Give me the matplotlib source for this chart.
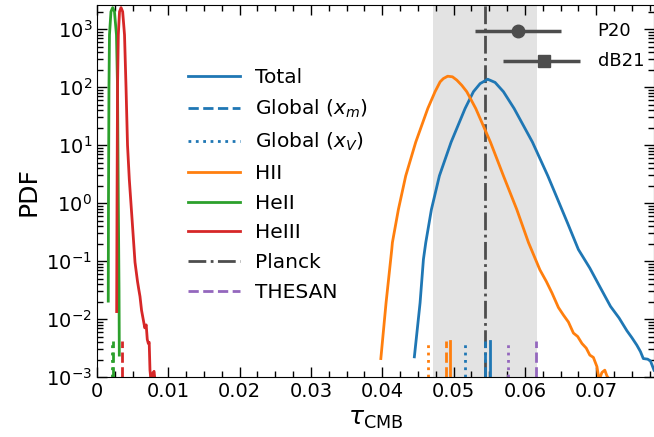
import matplotlib
matplotlib.use("Agg")
import matplotlib.pyplot as plt
from matplotlib.ticker import AutoMinorLocator, LogLocator, NullFormatter
import numpy as np

# Output
output_file_name = "out.png"

# PDF curves (tau, log10 PDF)
total_tau = [0.0445, 0.0453, 0.04577, 0.04610, 0.04689, 0.04801, 0.04965, 0.05161,
             0.05278, 0.05372, 0.05479, 0.05582, 0.05699, 0.05849, 0.06106, 0.06321,
             0.0642, 0.0660, 0.0675, 0.0691, 0.0705, 0.0720, 0.0732, 0.0743, 0.0750,
             0.0757, 0.0762, 0.0766, 0.0772, 0.0776, 0.0781]
total_logpdf = [-2.65, -1.72, -0.97, -0.68, -0.11, 0.47, 1.05, 1.63,
                1.92, 2.06, 2.135, 2.08, 1.92, 1.63, 1.05, 0.47,
                0.18, -0.35, -0.80, -1.12, -1.44, -1.78, -1.98, -2.20, -2.32,
                -2.45, -2.56, -2.68, -2.69, -2.72, -2.88]

hii_tau = [0.0398, 0.04053, 0.04133, 0.04142, 0.04226, 0.04329, 0.04469, 0.04638,
           0.04740, 0.04811, 0.04857, 0.04917, 0.04984, 0.05045, 0.05115, 0.05185,
           0.05311, 0.05517, 0.05699, 0.05886, 0.06050, 0.0621, 0.0630,
           0.0638, 0.0647, 0.0654, 0.0661, 0.0668, 0.0674, 0.0680, 0.0686, 0.0691,
           0.0696, 0.0701, 0.0704, 0.0708, 0.0712, 0.0715, 0.0719]
hii_logpdf = [-2.68, -1.72, -0.80, -0.68, -0.11, 0.47, 1.05, 1.63,
              1.92, 2.09, 2.147, 2.187, 2.177, 2.12, 2.03, 1.92,
              1.63, 1.05, 0.47, -0.11, -0.68, -1.15, -1.35,
              -1.55, -1.80, -1.93, -2.05, -2.24, -2.30, -2.42, -2.50, -2.62,
              -2.66, -2.82, -3.05, -2.92, -2.88, -2.98, -3.05]

heii_tau = [0.00158, 0.00161, 0.00168, 0.00175, 0.00196, 0.00220, 0.00245, 0.00273,
            0.00288, 0.00299, 0.00309, 0.00313]
heii_logpdf = [-1.69, 0.0, 2.0, 2.9, 3.3, 3.37, 3.3, 2.9, 2.0, 0.0, -1.5, -2.62]

heiii_tau = [0.00276, 0.00281, 0.00288, 0.00299, 0.00316, 0.00337, 0.00360, 0.00386,
             0.00407, 0.00428, 0.00453, 0.00493, 0.00533, 0.00568, 0.00585, 0.00603,
             0.00625, 0.00649, 0.00670, 0.00690, 0.00705, 0.00720, 0.00732, 0.00743,
             0.00757, 0.00775, 0.00800, 0.00813]
heiii_logpdf = [-1.87, 0.0, 2.0, 2.9, 3.3, 3.37, 3.3, 2.9,
                2.0, 1.0, 0.41, -0.30, -1.02, -1.35, -1.48, -1.61,
                -1.85, -2.01, -2.15, -2.10, -2.35, -2.42, -2.40, -2.88,
                -3.05, -2.95, -2.90, -3.05]

# Short markers at the bottom: (tau, colour, linestyle)
marker_tau = [0.00215, 0.00222, 0.00346, 0.04638, 0.04895, 0.04951,
              0.05166, 0.05447, 0.05517, 0.0576, 0.0616]
marker_color = ['C2', 'C2', 'C3', 'C1', 'C1', 'C1',
                'C0', 'C0', 'C0', 'C4', 'C4']
marker_style = [':', '--', '--', ':', '--', '-',
                ':', '--', '-', ':', '--']
marker_top = 4.2e-3

# Planck 2018
planck_tau = 0.0544
planck_err = 0.0073

# Other constraints: name, value, low err, high err, y, marker
obs_names = ['P20', 'dB21']
obs_tau = [0.059, 0.0627]
obs_lo = [0.006, 0.0058]
obs_hi = [0.006, 0.0050]
obs_y = [930, 283]
obs_marker = ['o', 's']

legend_labels = ['Total', r'Global ($x_m$)', r'Global ($x_V$)', 'HII', 'HeII', 'HeIII',
                 'Planck', 'THESAN']

x_ticks = [0, 0.01, 0.02, 0.03, 0.04, 0.05, 0.06, 0.07]
x_ticklabels = ['0', '0.01', '0.02', '0.03', '0.04', '0.05', '0.06', '0.07']
y_ticks = [1e-3, 1e-2, 1e-1, 1e0, 1e1, 1e2, 1e3]

# Figure config
fig = plt.figure(figsize=(6.54, 4.37), dpi=100)
ax = fig.add_axes([0.1483, 0.137, 0.8517, 0.8516])

ax.axvspan(planck_tau - planck_err, planck_tau + planck_err, color='0.89', lw=0, zorder=0)
ax.axvline(planck_tau, color='0.3', ls='-.', lw=2, zorder=1)

ax.plot(total_tau, 10 ** np.array(total_logpdf), color='C0', lw=2)
ax.plot(hii_tau, 10 ** np.array(hii_logpdf), color='C1', lw=2)
ax.plot(heii_tau, 10 ** np.array(heii_logpdf), color='C2', lw=2)
ax.plot(heiii_tau, 10 ** np.array(heiii_logpdf), color='C3', lw=2)

for t, c, s in zip(marker_tau, marker_color, marker_style):
    ax.plot([t, t], [1e-3, marker_top], color=c, ls=s, lw=2)

for name, t, lo, hi, y, m in zip(obs_names, obs_tau, obs_lo, obs_hi, obs_y, obs_marker):
    ax.errorbar(t, y, xerr=[[lo], [hi]], fmt=m, color='0.3', ms=9, lw=2.5, capsize=0)
    ax.text(0.0702, y, name, fontsize=13, va='center', ha='left')

ax.set_yscale('log')
ax.set_xlim(0, 0.0781)
ax.set_ylim(1e-3, 2.6e3)
ax.set_xlabel(r'$\tau_{\rm CMB}$', fontsize=18)
ax.set_ylabel('PDF', fontsize=18)

ax.set_xticks(x_ticks)
ax.set_xticklabels(x_ticklabels)
ax.set_yticks(y_ticks)
ax.xaxis.set_minor_locator(AutoMinorLocator(4))
ax.yaxis.set_minor_locator(LogLocator(base=10, subs=np.arange(2, 10), numticks=20))
ax.yaxis.set_minor_formatter(NullFormatter())
ax.tick_params(which='both', direction='in', top=True, right=True, labelsize=14)
ax.tick_params(which='major', length=7, width=1)
ax.tick_params(which='minor', length=4, width=1)

# Legend config
h = [
    plt.Line2D([], [], color='C0', lw=2),
    plt.Line2D([], [], color='C0', lw=2, ls='--'),
    plt.Line2D([], [], color='C0', lw=2, ls=':'),
    plt.Line2D([], [], color='C1', lw=2),
    plt.Line2D([], [], color='C2', lw=2),
    plt.Line2D([], [], color='C3', lw=2),
    plt.Line2D([], [], color='0.3', lw=2, ls='-.'),
    plt.Line2D([], [], color='C4', lw=2, ls='--'),
]
ax.legend(h, legend_labels, loc='center left', bbox_to_anchor=(0.163, 0.516),
          frameon=False, fontsize=14.5, borderpad=0, borderaxespad=0,
          handlelength=2.6, handletextpad=0.75, labelspacing=0.53)

# Save to file
fig.savefig(output_file_name, dpi=100)
